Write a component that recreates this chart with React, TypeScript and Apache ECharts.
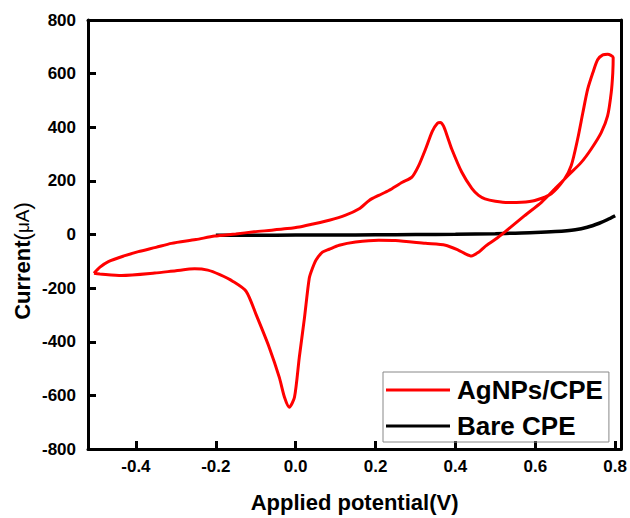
import React, { useEffect, useRef } from "react";
import * as echarts from "echarts";

const seriesNames = ["AgNPs/CPE", "Bare CPE"];

// AgNPs/CPE cyclic voltammogram: [potential (V), current (µA)], in scan order
const agnpsCurve: [number, number][] = [
  [-0.505, -145], [-0.49, -122], [-0.469, -101], [-0.43, -80], [-0.394, -64],
  [-0.35, -48], [-0.311, -33], [-0.25, -19], [-0.203, -6], [-0.15, 2],
  [-0.104, 10], [-0.06, 16], [-0.021, 22], [0.009, 28], [0.04, 38],
  [0.084, 53], [0.125, 72], [0.159, 96], [0.184, 127], [0.208, 146],
  [0.233, 164], [0.267, 195], [0.291, 214], [0.308, 257], [0.325, 318],
  [0.342, 385], [0.355, 415], [0.362, 418], [0.37, 405], [0.38, 365],
  [0.391, 318], [0.416, 232], [0.441, 172], [0.458, 146], [0.474, 133],
  [0.5, 124], [0.532, 119], [0.565, 120], [0.599, 127], [0.64, 152],
  [0.673, 207], [0.69, 257], [0.706, 356], [0.719, 454], [0.731, 541],
  [0.744, 603], [0.756, 652], [0.769, 670], [0.781, 672], [0.795, 660],
  [0.794, 603], [0.79, 528], [0.781, 442], [0.765, 380], [0.74, 319],
  [0.715, 269], [0.682, 220], [0.649, 170], [0.616, 121], [0.574, 71],
  [0.524, 10], [0.5, -18], [0.474, -45], [0.458, -66], [0.44, -80],
  [0.425, -72], [0.407, -58], [0.375, -40], [0.325, -33], [0.25, -22],
  [0.208, -21], [0.15, -28], [0.109, -40], [0.084, -55], [0.067, -66],
  [0.051, -95], [0.042, -126], [0.034, -163], [0.022, -311], [0.009, -459],
  [-0.003, -607], [-0.016, -644], [-0.028, -607], [-0.041, -533], [-0.066, -422],
  [-0.099, -299], [-0.124, -212], [-0.157, -175], [-0.19, -150], [-0.22, -133],
  [-0.253, -128], [-0.3, -135], [-0.353, -144], [-0.436, -153], [-0.49, -147],
  [-0.505, -145],
];

// Bare CPE: [potential (V), current (µA)]
const bareCurve: [number, number][] = [
  [-0.2, -3], [-0.1, -3], [0, -2], [0.1, -2], [0.2, -1], [0.3, 0],
  [0.4, 1], [0.5, 3], [0.55, 5], [0.6, 7], [0.65, 11], [0.7, 18],
  [0.73, 27], [0.76, 42], [0.78, 55], [0.8, 70],
];

const xTitle = "Applied potential(V)";
const yTitleMain = "Current";
const yTitleUnit = "μA";

const X_MIN = -0.52;
const X_MAX = 0.815;
const Y_MIN = -800;
const Y_MAX = 800;

const FONT = "'Liberation Sans', Arial, sans-serif";

const frameAxisLine = { onZero: false, lineStyle: { color: "#000", width: 3 } };

export default function App() {
  const ref = useRef<HTMLDivElement>(null);
  useEffect(() => {
    if (!ref.current) return;
    const chart = echarts.init(ref.current, undefined, { renderer: "svg" });
    chart.setOption({
      animation: false,
      backgroundColor: "#fff",
      textStyle: { fontFamily: FONT },
      grid: {
        left: 88,
        right: 7,
        top: 20,
        bottom: 66,
      },
      legend: {
        left: 383,
        top: 372,
        orient: "vertical",
        icon: "rect",
        itemWidth: 64,
        itemHeight: 3,
        itemGap: 8,
        borderColor: "#888",
        borderWidth: 1,
        padding: [4, 6, 2, 3],
        textStyle: {
          fontFamily: FONT,
          fontWeight: "bold",
          fontSize: 26,
          color: "#000",
          lineHeight: 28,
          padding: [0, 0, 0, 2],
        },
        data: seriesNames,
      },
      xAxis: [
        {
          type: "value",
          min: X_MIN,
          max: X_MAX,
          splitNumber: 7,
          minInterval: 0.2,
          maxInterval: 0.2,
          splitLine: { show: false },
          axisLine: frameAxisLine,
          axisTick: { inside: true, length: 8, lineStyle: { color: "#000", width: 3 } },
          axisLabel: {
            showMinLabel: false,
            showMaxLabel: false,
            color: "#000",
            fontFamily: FONT,
            fontWeight: "bold",
            fontSize: 17,
            margin: 9,
            formatter: (v: number) => v.toFixed(1),
          },
          name: xTitle,
          nameLocation: "middle",
          nameGap: 42,
          nameTextStyle: {
            color: "#000",
            fontFamily: FONT,
            fontWeight: "bold",
            fontSize: 22,
          },
        },
        {
          type: "value",
          position: "top",
          min: X_MIN,
          max: X_MAX,
          splitLine: { show: false },
          axisLine: frameAxisLine,
          axisTick: { show: false },
          axisLabel: { show: false },
        },
      ],
      yAxis: [
        {
          type: "value",
          min: Y_MIN,
          max: Y_MAX,
          interval: 200,
          splitLine: { show: false },
          axisLine: frameAxisLine,
          axisTick: { inside: true, length: 8, lineStyle: { color: "#000", width: 3 } },
          axisLabel: {
            color: "#000",
            fontFamily: FONT,
            fontWeight: "bold",
            fontSize: 17,
            margin: 12,
          },
        },
        {
          type: "value",
          position: "right",
          min: Y_MIN,
          max: Y_MAX,
          splitLine: { show: false },
          axisLine: frameAxisLine,
          axisTick: { show: false },
          axisLabel: { show: false },
        },
      ],
      graphic: [
        {
          type: "text",
          x: 22,
          y: 261,
          rotation: Math.PI / 2,
          style: {
            text: `{b|${yTitleMain}}{p|(}{u|${yTitleUnit}}{p|)}`,
            align: "center",
            verticalAlign: "middle",
            fill: "#000",
            rich: {
              b: { fontFamily: FONT, fontWeight: "bold", fontSize: 22, fill: "#000" },
              p: { fontFamily: FONT, fontWeight: "normal", fontSize: 22, fill: "#000" },
              u: { fontFamily: FONT, fontWeight: "normal", fontSize: 19, fill: "#000" },
            },
          },
        },
      ],
      series: [
        {
          name: seriesNames[0],
          type: "line",
          data: agnpsCurve,
          showSymbol: false,
          symbol: "none",
          smooth: 0.25,
          lineStyle: { color: "#ff0000", width: 3 },
          itemStyle: { color: "#ff0000" },
          z: 3,
        },
        {
          name: seriesNames[1],
          type: "line",
          data: bareCurve,
          showSymbol: false,
          symbol: "none",
          smooth: 0.3,
          lineStyle: { color: "#000", width: 3.5 },
          itemStyle: { color: "#000" },
          z: 2,
        },
      ],
    });
    return () => chart.dispose();
  }, []);
  return (
    <div
      ref={ref}
      style={{ position: "absolute", left: 0, top: 0, width: 630, height: 518 }}
    />
  );
}
